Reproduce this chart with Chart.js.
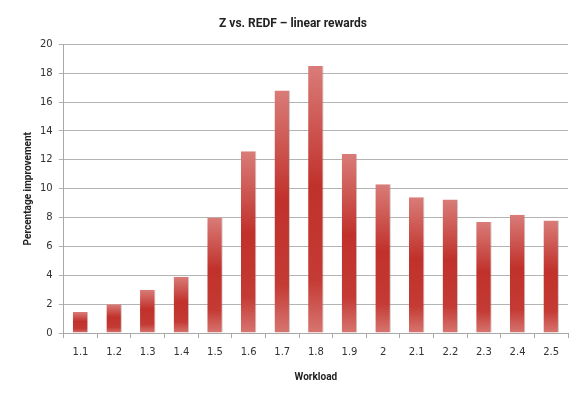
<!DOCTYPE html>
<html>
<head>
<meta charset="utf-8">
<script src="https://cdn.jsdelivr.net/npm/chart.js@4/dist/chart.umd.min.js"></script>
<style>
  html, body { margin: 0; padding: 0; background: #fff; }
  #wrap { width: 583px; height: 396px; position: relative; }
</style>
</head>
<body>
<div id="wrap"><canvas id="chart"></canvas></div>
<script>
const workloads = ['1.1','1.2','1.3','1.4','1.5','1.6','1.7','1.8','1.9','2','2.1','2.2','2.3','2.4','2.5'];
const improvement = [1.45, 2.0, 3.0, 3.9, 8.0, 12.6, 16.8, 18.5, 12.4, 10.3, 9.4, 9.25, 7.7, 8.2, 7.8];
const yTicks = [0, 2, 4, 6, 8, 10, 12, 14, 16, 18, 20];

const tickFont = { family: 'DejaVu Sans', size: 10 };
const titleFont = { family: 'Roboto', size: 10, weight: 'bold' };

// vertical gradient per bar, from its top down to the zero line
function barFill(ctx) {
  const chart = ctx.chart;
  const y = chart.scales.y;
  if (!y || ctx.dataIndex === undefined) return '#c0302b';
  const top = y.getPixelForValue(improvement[ctx.dataIndex]);
  const bottom = y.getPixelForValue(0);
  if (!isFinite(top) || bottom - top < 1) return '#c0302b';
  const g = chart.ctx.createLinearGradient(0, top, 0, bottom);
  g.addColorStop(0, '#d97c78');
  g.addColorStop(0.45, '#c1312b');
  g.addColorStop(0.8, '#c43a34');
  g.addColorStop(1, '#d77570');
  return g;
}

new Chart(document.getElementById('chart'), {
  type: 'bar',
  data: {
    labels: workloads,
    datasets: [{
      data: improvement,
      backgroundColor: barFill,
      borderColor: 'rgba(150,150,150,0.5)',
      borderWidth: { right: 1, top: 0, left: 0, bottom: 0 },
      borderSkipped: false,
      barPercentage: 0.46,
      categoryPercentage: 1.0
    }]
  },
  options: {
    responsive: true, maintainAspectRatio: false, animation: false,
    layout: { padding: { left: 18, right: 15, top: 6, bottom: 9 } },
    plugins: {
      legend: { display: false },
      tooltip: { enabled: false },
      title: {
        display: true, text: 'Z vs. REDF – linear rewards', color: '#222',
        font: { family: 'Roboto', size: 12, weight: 'bold' },
        padding: { top: 11, bottom: 13 }
      }
    },
    scales: {
      x: {
        grid: { display: true, offset: true, drawOnChartArea: false, drawTicks: true, tickLength: 5, color: '#a8a8a8' },
        border: { display: true, color: '#a8a8a8' },
        ticks: { color: '#333', font: tickFont, padding: 8, maxRotation: 0 },
        title: { display: true, text: 'Workload', color: '#222', font: titleFont, padding: { top: 5 } }
      },
      y: {
        min: 0, max: 20,
        afterBuildTicks: s => { s.ticks = yTicks.map(v => ({ value: v })); },
        grid: { color: '#b4b4b4', tickLength: 5 },
        border: { display: true, color: '#a8a8a8' },
        ticks: { color: '#333', font: tickFont, padding: 6 },
        title: { display: true, text: 'Percentage improvement', color: '#222', font: titleFont, padding: { bottom: 0 } }
      }
    }
  }
});
</script>
</body>
</html>
